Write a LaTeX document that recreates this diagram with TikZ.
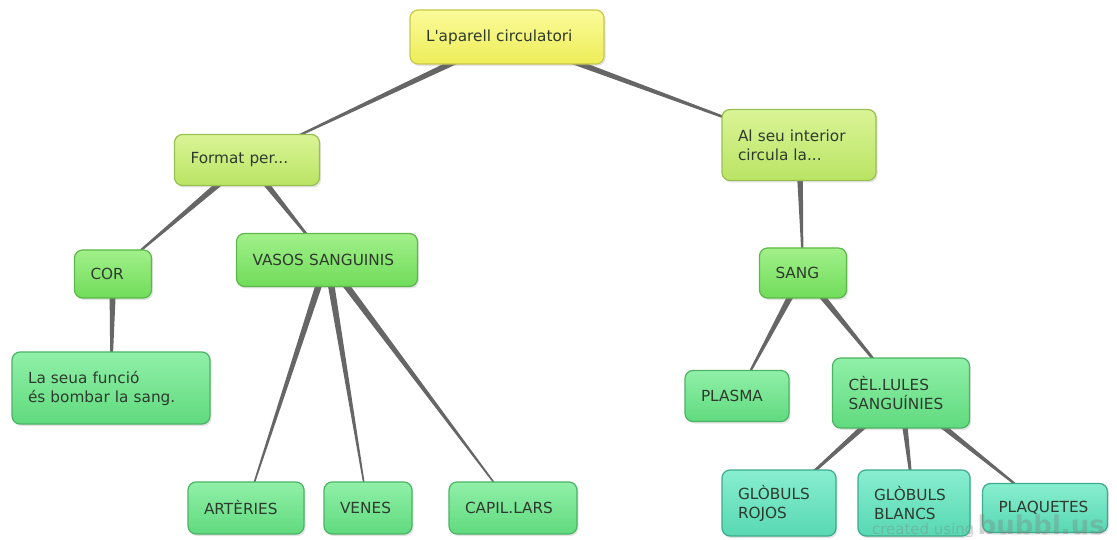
\documentclass[tikz,border=0pt]{standalone}
\usepackage{fontspec}
\setmainfont{DejaVu Sans}
\usepackage{tikz}
\usetikzlibrary{calc, shadows}
\usetikzlibrary{backgrounds}

\definecolor{txtgray}{HTML}{2E3A2E}
\definecolor{linkgray}{HTML}{666666}
\definecolor{rootdraw}{HTML}{C8C84A}
\definecolor{roottop}{HTML}{FBFB9A}
\definecolor{rootbot}{HTML}{EDED58}
\definecolor{onedraw}{HTML}{98C050}
\definecolor{onetop}{HTML}{DAF496}
\definecolor{onebot}{HTML}{BAE464}
\definecolor{twodraw}{HTML}{5CB84A}
\definecolor{twotop}{HTML}{A2F08A}
\definecolor{twobot}{HTML}{70DC5A}
\definecolor{threedraw}{HTML}{4AB464}
\definecolor{threetop}{HTML}{90F0A8}
\definecolor{threebot}{HTML}{60DA7E}
\definecolor{fourdraw}{HTML}{3CAA8C}
\definecolor{fourtop}{HTML}{88EED0}
\definecolor{fourbot}{HTML}{58D8B2}

\tikzset{
    bubble/.style={rounded corners=8pt, line width=1.2pt, text=txtgray,
        font=\fontsize{15.3}{19}\selectfont, align=left, inner xsep=16pt, inner ysep=0pt,
        drop shadow={opacity=0.22, shadow xshift=1.5pt, shadow yshift=-2pt}},
    lvlroot/.style={bubble, draw=rootdraw, top color=roottop, bottom color=rootbot},
    lvlone/.style={bubble, draw=onedraw, top color=onetop, bottom color=onebot},
    lvltwo/.style={bubble, draw=twodraw, top color=twotop, bottom color=twobot},
    lvlthree/.style={bubble, draw=threedraw, top color=threetop, bottom color=threebot},
    lvlfour/.style={bubble, draw=fourdraw, top color=fourtop, bottom color=fourbot}
}

\begin{document}
\begin{tikzpicture}[x=1pt, y=-1pt]
    \useasboundingbox (0,0) rectangle (1117,540);

    \node[lvlroot, text width=162pt, minimum height=54pt] (root) at (507,37) {L\textquotesingle aparell circulatori};

    \node[lvlone, text width=113pt, minimum height=51pt] (format) at (247,160) {Format per...};
    \node[lvlone, text width=122pt, minimum height=71pt] (interior) at (799,145) {Al seu interior\\circula la...};

    \node[lvltwo, text width=45pt, minimum height=48pt] (cor) at (113,274) {COR};
    \node[lvltwo, text width=149pt, minimum height=53pt] (vasos) at (327,260) {VASOS SANGUINIS};
    \node[lvltwo, text width=55pt, minimum height=50pt] (sang) at (803,273) {SANG};

    \node[lvlthree, text width=166pt, minimum height=72pt] (funcio) at (111,388) {La seua funció\\és bombar la sang.};
    \node[lvlthree, text width=84pt, minimum height=52pt] (arteries) at (246,508) {ARTÈRIES};
    \node[lvlthree, text width=56pt, minimum height=52pt] (venes) at (368,508) {VENES};
    \node[lvlthree, text width=96pt, minimum height=52pt] (capil) at (513,508) {CAPIL.LARS};
    \node[lvlthree, text width=72pt, minimum height=51pt] (plasma) at (737,396) {PLASMA};
    \node[lvlthree, text width=105pt, minimum height=70pt] (cellules) at (901,393) {CÈL.LULES\\SANGUÍNIES};

    \node[lvlfour, text width=82pt, minimum height=66pt] (rojos) at (779,503) {GLÒBULS\\ROJOS};
    \node[lvlfour, text width=80pt, minimum height=66pt] (blancs) at (914,503) {GLÒBULS\\BLANCS};
    \node[lvlfour, text width=93pt, minimum height=49pt] (plaquetes) at (1045,508) {PLAQUETES};

    \node[anchor=base east, inner sep=0pt, text=gray, opacity=0.35] (bubbl) at (1105,534)
        {{\fontsize{15}{15}\selectfont created using} {\bfseries\fontsize{26}{26}\selectfont bubbl.us}};

    \begin{scope}[on background layer]
        \fill[white] (0,0) rectangle (1117,540);
        \foreach \p/\c in {root/format, root/interior, format/cor, format/vasos, cor/funcio,
                vasos/arteries, vasos/venes, vasos/capil, interior/sang, sang/plasma,
                sang/cellules, cellules/rojos, cellules/blancs, cellules/plaquetes}
            \fill[linkgray] ($(\p)!3.6pt!90:(\c)$) -- ($(\p)!3.6pt!-90:(\c)$)
                -- ($(\c)!0.5pt!90:(\p)$) -- ($(\c)!0.5pt!-90:(\p)$) -- cycle;
    \end{scope}
\end{tikzpicture}
\end{document}
